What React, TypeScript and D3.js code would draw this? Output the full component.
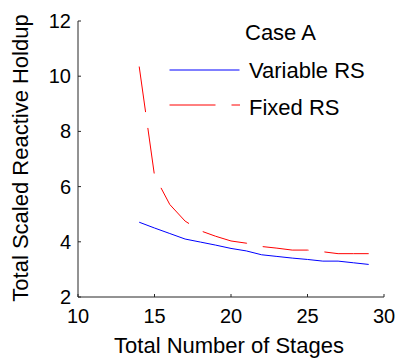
import React from "react";
import * as d3 from "d3";

const stages = [14, 15, 16, 17, 18, 19, 20, 21, 22, 23, 24, 25, 26, 27, 28, 29];
const variableRS = [4.71, 4.5, 4.3, 4.1, 3.99, 3.88, 3.76, 3.67, 3.53, 3.47, 3.41, 3.36, 3.3, 3.3, 3.24, 3.18];
const fixedRS = [10.35, 6.4, 5.35, 4.75, 4.4, 4.2, 4.03, 3.95, 3.83, 3.77, 3.7, 3.7, 3.64, 3.57, 3.57, 3.57];
const xTicks = [10, 15, 20, 25, 30];
const yTicks = [2, 4, 6, 8, 10, 12];
const legendTitle = "Case A";
const seriesNames = ["Variable RS", "Fixed RS"];

export default function App() {
  const W = 398, H = 358;
  const x = d3.scaleLinear().domain([10, 30]).range([78, 384]);
  const y = d3.scaleLinear().domain([2, 12]).range([297, 21]);
  const line = d3.line<[number, number]>().x(d => x(d[0])).y(d => y(d[1]));
  const vData = stages.map((s, i) => [s, variableRS[i]] as [number, number]);
  const fData = stages.map((s, i) => [s, fixedRS[i]] as [number, number]);
  const font = "Liberation Sans, Arial, sans-serif";
  const axisColor = "#262626";
  return (
    <svg width={W} height={H} style={{ position: "absolute", left: 0, top: 0, background: "#fff" }} fontFamily={font}>
      <rect x={0} y={0} width={W} height={H} fill="#fff" />
      {/* axes */}
      <line x1={x(10)} x2={x(30)} y1={y(2)} y2={y(2)} stroke={axisColor} strokeWidth={1} />
      <line x1={x(10)} x2={x(10)} y1={y(2)} y2={y(12)} stroke={axisColor} strokeWidth={1} />
      {xTicks.map(t => (
        <g key={"x" + t}>
          <line x1={x(t)} x2={x(t)} y1={y(2)} y2={y(2) - 3} stroke={axisColor} />
          <text x={x(t)} y={323} fontSize={20} textAnchor="middle" fill="#000">{t}</text>
        </g>
      ))}
      {yTicks.map(t => (
        <g key={"y" + t}>
          <line x1={x(10)} x2={x(10) + 3} y1={y(t)} y2={y(t)} stroke={axisColor} />
          <text x={71} y={y(t) + 7} fontSize={20} textAnchor="end" fill="#000">{t}</text>
        </g>
      ))}
      <text x={229} y={352.5} fontSize={22} textAnchor="middle" fill="#000">Total Number of Stages</text>
      <text transform="translate(28,158) rotate(-90)" fontSize={22} textAnchor="middle" fill="#000">Total Scaled Reactive Holdup</text>
      {/* series */}
      <path d={line(vData) || ""} fill="none" stroke="#0000ff" strokeWidth={1} />
      <path d={line(fData) || ""} fill="none" stroke="#ff0000" strokeWidth={1} strokeDasharray="46,16" />
      {/* legend */}
      <text x={245} y={40} fontSize={22} fill="#000">{legendTitle}</text>
      <line x1={169.5} x2={239.5} y1={70} y2={70} stroke="#0000ff" strokeWidth={1} />
      <text x={249} y={77.5} fontSize={22} fill="#000">{seriesNames[0]}</text>
      <line x1={169.5} x2={240} y1={105} y2={105} stroke="#ff0000" strokeWidth={1} strokeDasharray="46,16" />
      <text x={249} y={115} fontSize={22} fill="#000">{seriesNames[1]}</text>
    </svg>
  );
}
